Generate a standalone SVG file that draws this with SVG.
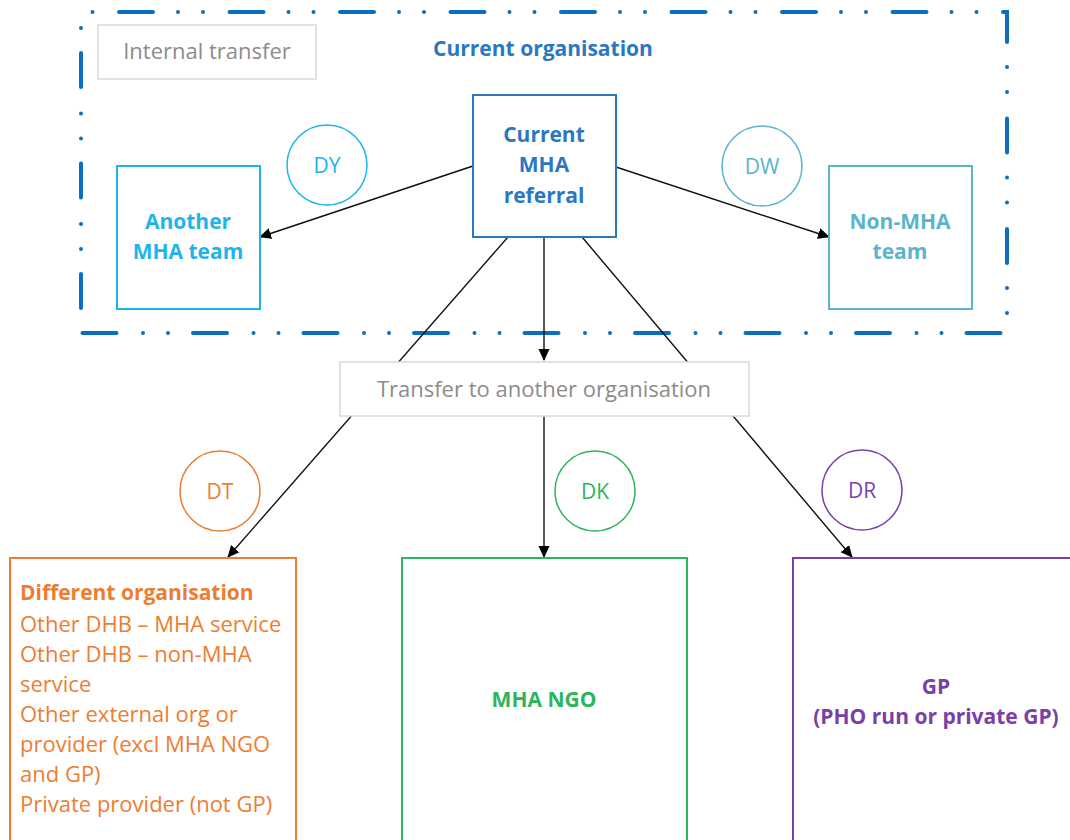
<svg xmlns="http://www.w3.org/2000/svg" width="1070" height="840" viewBox="0 0 1070 840">
<style>
text{font-family:"Open Sans","Liberation Sans",sans-serif;}
.b{font-weight:bold;font-size:21px;}
.c{text-anchor:middle;}
.grey{fill:#fff;stroke:#d9d9d9;stroke-width:1.5;}
.gt{fill:#8c8c8c;font-size:22px;}
.box{fill:#fff;stroke-width:2;}
.circ{fill:#fff;stroke-width:1.5;}
.ct{font-size:21px;text-anchor:middle;}
.conn{stroke:#111;stroke-width:1.4;fill:none;}
.border{fill:none;stroke:#0A6EC2;stroke-width:4;stroke-linecap:round;stroke-dasharray:34 25 0 25 0 26.5;}
</style>
<defs>
<marker id="ah" markerWidth="12" markerHeight="12" refX="11" refY="6" orient="auto" markerUnits="userSpaceOnUse">
<path d="M0,0.5 L12,6 L0,11.5 Z" fill="#000"/>
</marker>
</defs>
<g id="org-border">
<path class="border" d="M81,12 H1007 V333 H81" stroke-dashoffset="72.5"/>
<path class="border" d="M81,333 V12" stroke-dashoffset="85.5"/>
</g>
<g id="connectors">
<line class="conn" x1="473" y1="166" x2="260" y2="237" marker-end="url(#ah)"/>
<line class="conn" x1="616" y1="167" x2="829" y2="237" marker-end="url(#ah)"/>
<line class="conn" x1="508" y1="237" x2="228" y2="557" marker-end="url(#ah)"/>
<line class="conn" x1="582" y1="237" x2="852" y2="557" marker-end="url(#ah)"/>
<line class="conn" x1="544" y1="237" x2="544" y2="360" marker-end="url(#ah)"/>
<line class="conn" x1="544" y1="416" x2="544" y2="557" marker-end="url(#ah)"/>
</g>
<g id="internal-transfer">
<rect class="grey" x="98" y="25" width="218" height="54"/>
<text class="gt c" x="207" y="59">Internal transfer</text>
</g>
<g id="current-org-label">
<text class="b c" x="543" y="56" fill="#2A78C2">Current organisation</text>
</g>
<g id="current-mha">
<rect class="box" x="473" y="95" width="143" height="142" stroke="#2A78C2"/>
<text class="b c" fill="#2A78C2"><tspan x="544" y="142">Current</tspan><tspan x="544" y="172">MHA</tspan><tspan x="544" y="203">referral</tspan></text>
</g>
<g id="another-mha">
<rect class="box" x="117" y="166" width="143" height="143" stroke="#1DB4EC"/>
<text class="b c" fill="#1DB4EC"><tspan x="188" y="229">Another</tspan><tspan x="188" y="259">MHA team</tspan></text>
</g>
<g id="dy">
<circle class="circ" cx="327" cy="165" r="40" stroke="#1DB4EC"/>
<text class="ct" x="327" y="172.5" fill="#1DB4EC">DY</text>
</g>
<g id="dw">
<circle class="circ" cx="762" cy="166" r="40" stroke="#5BB4CC"/>
<text class="ct" x="762" y="173.5" fill="#5BB4CC">DW</text>
</g>
<g id="non-mha">
<rect class="box" x="829" y="166" width="143" height="143" stroke="#5BB4CC"/>
<text class="b c" fill="#5BB4CC"><tspan x="900" y="229">Non-MHA</tspan><tspan x="900" y="259">team</tspan></text>
</g>
<g id="transfer-other">
<rect class="grey" x="340" y="362" width="409" height="54"/>
<text class="gt c" x="544" y="397">Transfer to another organisation</text>
</g>
<g id="dt">
<circle class="circ" cx="220" cy="491" r="40" stroke="#ED7D31"/>
<text class="ct" x="220" y="498.5" fill="#ED7D31">DT</text>
</g>
<g id="dk">
<circle class="circ" cx="595" cy="491" r="40" stroke="#2CB55A"/>
<text class="ct" x="595" y="498.5" fill="#2CB55A">DK</text>
</g>
<g id="dr">
<circle class="circ" cx="862" cy="490" r="40" stroke="#7B3FA8"/>
<text class="ct" x="862" y="497.5" fill="#7B3FA8">DR</text>
</g>
<g id="different-org">
<rect class="box" x="10" y="558" width="286" height="300" stroke="#ED7D31"/>
<text font-size="22" fill="#ED7D31">
<tspan class="b" x="20" y="600">Different organisation</tspan>
<tspan x="20" y="632">Other DHB – MHA service</tspan>
<tspan x="20" y="662">Other DHB – non-MHA</tspan>
<tspan x="20" y="692">service</tspan>
<tspan x="20" y="722">Other external org or</tspan>
<tspan x="20" y="752">provider (excl MHA NGO</tspan>
<tspan x="20" y="782">and GP)</tspan>
<tspan x="20" y="812">Private provider (not GP)</tspan>
</text>
</g>
<g id="mha-ngo">
<rect class="box" x="402" y="558" width="285" height="300" stroke="#2CB55A"/>
<text class="b c" x="544" y="707" fill="#2CB55A">MHA NGO</text>
</g>
<g id="gp">
<rect class="box" x="793" y="558" width="300" height="300" stroke="#7B3FA8"/>
<text class="b c" fill="#7B3FA8"><tspan x="936" y="694">GP</tspan><tspan x="936" y="724">(PHO run or private GP)</tspan></text>
</g>
</svg>
